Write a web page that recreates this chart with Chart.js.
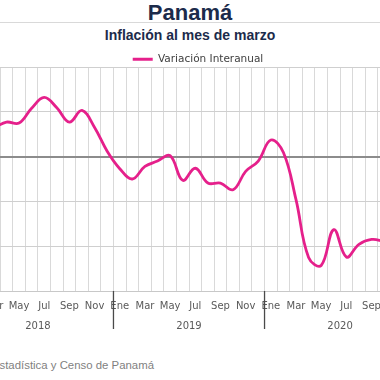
<!DOCTYPE html>
<html>
<head>
<meta charset="utf-8">
<script src="https://cdn.jsdelivr.net/npm/chart.js@4.4.1/dist/chart.umd.min.js"></script>
<style>
  html, body { margin:0; padding:0; background:#ffffff; }
  #page { position:relative; width:380px; height:380px; overflow:hidden; background:#fff; }
  #t1 { position:absolute; left:0; width:380px; top:0px; text-align:center; font:bold 22px "Liberation Sans", Arial, sans-serif; color:#1c2b4b; }
  #rule { position:absolute; left:0; width:380px; top:22px; height:1px; background:#d9d9d9; }
  #t2 { position:absolute; left:0; width:380px; top:27px; text-align:center; font:bold 14px "Liberation Sans", Arial, sans-serif; color:#1c2b4b; }
  #src { position:absolute; right:226px; top:359px; white-space:nowrap; font:11.4px "Liberation Sans", Arial, sans-serif; color:#7f7f7f; }
  #wrap { position:absolute; left:-62px; top:48px; width:520px; height:283px; }
</style>
</head>
<body>
<div id="page">
  <div id="t1">Panamá</div>
  <div id="rule"></div>
  <div id="t2">Inflación al mes de marzo</div>
  <div id="wrap"><canvas id="c"></canvas></div>
  <div id="src">Fuente: Instituto Nacional de Estadística y Censo de Panamá</div>
</div>
<script>
const months = ['Ene','Feb','Mar','Abr','May','Jun','Jul','Ago','Sep','Oct','Nov','Dic'];
const years = ['2018','2019','2020'];
const vals2018 = [0.40, 0.60, 0.65, 0.77, 0.75, 1.08, 1.32, 1.09, 0.77, 1.03, 0.65, 0.12];
const vals2019 = [-0.27, -0.50, -0.22, -0.10, 0.02, -0.53, -0.26, -0.59, -0.59, -0.74, -0.33, -0.10];
const vals2020 = [0.37, 0.09, -0.96, -2.25, -2.43, -1.63, -2.24, -1.96, -1.85, -1.89, null, null];
const yTicks = [-3, -2, -1, 0, 1, 2];

const labels = [].concat(months, months, months);
const values = [].concat(vals2018, vals2019, vals2020);
const lineColor = '#e5208b';

const yearSep = {
  id: 'yearSep',
  afterDraw(chart) {
    const xs = chart.scales.x;
    const ctx = chart.ctx;
    const bottom = chart.chartArea.bottom;
    ctx.save();
    ctx.strokeStyle = '#4a4a4a';
    ctx.lineWidth = 1.3;
    for (let i = 12; i < labels.length; i += 12) {
      const px = (xs.getPixelForValue(i - 1) + xs.getPixelForValue(i)) / 2;
      ctx.beginPath();
      ctx.moveTo(px, bottom);
      ctx.lineTo(px, bottom + 38);
      ctx.stroke();
    }
    ctx.restore();
  }
};

const legendHeight = {
  id: 'legendHeight',
  beforeInit(chart) {
    const origFit = chart.legend.fit;
    chart.legend.fit = function () {
      origFit.bind(chart.legend)();
      this.height = 19;
    };
  }
};

new Chart(document.getElementById('c'), {
  type: 'line',
  data: {
    labels: labels,
    datasets: [{
      label: 'Variación Interanual',
      data: values,
      borderColor: lineColor,
      backgroundColor: lineColor,
      borderWidth: 2.8,
      pointRadius: 0,
      tension: 0.4,
      fill: false,
      xAxisID: 'x',
      yAxisID: 'y'
    }]
  },
  options: {
    responsive: true,
    maintainAspectRatio: false,
    animation: false,
    layout: { padding: { left: 24.4, right: 24.4, top: 0, bottom: 0 } },
    plugins: {
      legend: {
        display: true,
        position: 'top',
        labels: {
          boxWidth: 20,
          boxHeight: 3,
          padding: 6,
          color: '#404040',
          font: { family: '"DejaVu Sans", sans-serif', size: 10.5 },
          generateLabels(chart) {
            const items = Chart.defaults.plugins.legend.labels.generateLabels(chart);
            items.forEach(it => { it.lineWidth = 0; });
            return items;
          }
        }
      },
      tooltip: { enabled: false },
      title: { display: false }
    },
    scales: {
      x: {
        type: 'category',
        position: 'bottom',
        offset: true,
        afterFit(s) { s.height = 21; },
        grid: { offset: true, color: '#d9d9d9', lineWidth: 1, drawTicks: false },
        border: { display: true, color: '#c8c8c8', width: 1 },
        ticks: {
          autoSkip: false, maxRotation: 0, padding: 9,
          color: '#595959',
          font: { family: '"DejaVu Sans", sans-serif', size: 10 },
          callback(v, i) { return i % 2 === 0 ? labels[i] : ''; }
        }
      },
      x2: {
        type: 'category',
        labels: years,
        position: 'bottom',
        offset: true,
        afterFit(s) { s.height = 19; },
        grid: { display: false },
        border: { display: false },
        ticks: {
          maxRotation: 0, padding: 0,
          color: '#595959',
          font: { family: '"DejaVu Sans", sans-serif', size: 10 }
        }
      },
      y: {
        position: 'right',
        min: -3, max: 2,
        afterFit(s) { s.width = 18; },
        afterBuildTicks(s) { s.ticks = yTicks.map(v => ({ value: v })); },
        grid: {
          drawTicks: false,
          color: (c) => c.tick && c.tick.value === 0 ? '#8c8c8c' : '#cfcfcf',
          lineWidth: (c) => c.tick && c.tick.value === 0 ? 2 : 1
        },
        border: { display: false },
        ticks: { display: false }
      }
    }
  },
  plugins: [yearSep, legendHeight]
});
</script>
</body>
</html>
